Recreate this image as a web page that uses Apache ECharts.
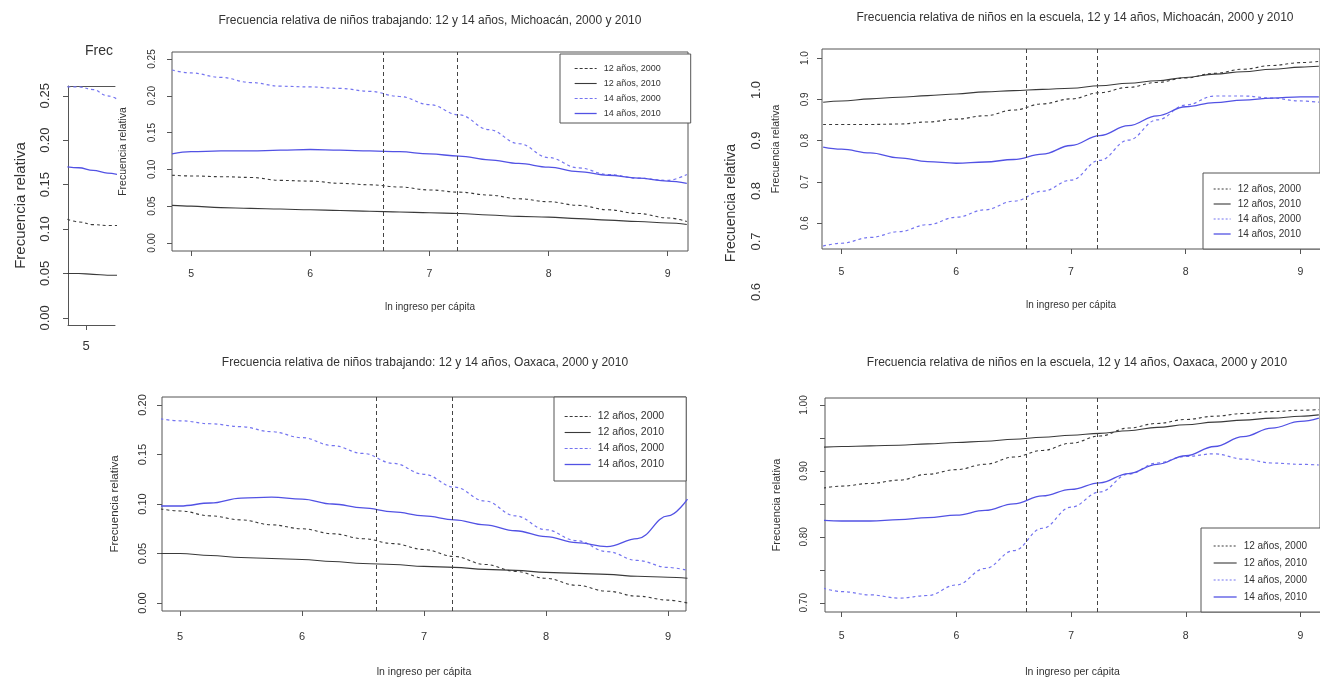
<!DOCTYPE html>
<html>
<head>
<meta charset="utf-8">
<script src="https://cdn.jsdelivr.net/npm/echarts@6/dist/echarts.min.js"></script>
<style>
html,body{margin:0;padding:0;background:#fff;}
#chart{width:1320px;height:681px;}
</style>
</head>
<body>
<div id="chart"></div>
<script>
// ---------- data ----------
const seriesNames = ['12 años, 2000', '12 años, 2010', '14 años, 2000', '14 años, 2010'];
const xs = [4.84, 5.0, 5.25, 5.5, 5.75, 6.0, 6.25, 6.5, 6.75, 7.0, 7.25, 7.5, 7.75, 8.0, 8.25, 8.5, 8.75, 9.0, 9.16];
const xTicks = [5, 6, 7, 8, 9];
const cutoffs = [6.61, 7.23];

// Fragment of a panel partly hidden at the far left
const xsFrag = [4.87, 4.95, 5.05, 5.15, 5.25];
const frag_12_2000 = [0.111, 0.108, 0.105, 0.104, 0.104];
const frag_12_2010 = [0.050, 0.050, 0.049, 0.048, 0.048];
const frag_14_2000 = [0.260, 0.260, 0.257, 0.250, 0.243];
const frag_14_2010 = [0.170, 0.169, 0.166, 0.163, 0.160];
const fragYTicks = [0, 0.05, 0.10, 0.15, 0.20, 0.25];

// Niños trabajando, Michoacán
const trabMich_12_2000 = [0.092, 0.091, 0.090, 0.089, 0.085, 0.084, 0.081, 0.079, 0.076, 0.072, 0.069, 0.065, 0.060, 0.056, 0.051, 0.045, 0.040, 0.034, 0.029];
const trabMich_12_2010 = [0.051, 0.050, 0.048, 0.047, 0.046, 0.045, 0.044, 0.043, 0.042, 0.041, 0.040, 0.038, 0.036, 0.035, 0.033, 0.031, 0.029, 0.027, 0.025];
const trabMich_14_2000 = [0.235, 0.231, 0.225, 0.218, 0.213, 0.212, 0.210, 0.206, 0.199, 0.188, 0.174, 0.154, 0.135, 0.116, 0.102, 0.093, 0.088, 0.085, 0.093];
const trabMich_14_2010 = [0.121, 0.124, 0.125, 0.125, 0.126, 0.127, 0.126, 0.125, 0.124, 0.121, 0.118, 0.113, 0.108, 0.103, 0.097, 0.092, 0.088, 0.084, 0.081];
const trabMichYTicks = [0, 0.05, 0.10, 0.15, 0.20, 0.25];

// Niños en la escuela, Michoacán
const escMich_12_2000 = [0.839, 0.839, 0.839, 0.840, 0.845, 0.852, 0.860, 0.874, 0.889, 0.901, 0.916, 0.929, 0.941, 0.952, 0.963, 0.973, 0.982, 0.989, 0.992];
const escMich_12_2010 = [0.893, 0.896, 0.901, 0.905, 0.909, 0.913, 0.918, 0.921, 0.924, 0.927, 0.933, 0.939, 0.945, 0.953, 0.961, 0.967, 0.973, 0.978, 0.980];
const escMich_14_2000 = [0.544, 0.551, 0.565, 0.579, 0.596, 0.614, 0.632, 0.653, 0.677, 0.704, 0.752, 0.801, 0.850, 0.886, 0.908, 0.908, 0.903, 0.896, 0.893];
const escMich_14_2010 = [0.784, 0.779, 0.770, 0.758, 0.749, 0.745, 0.748, 0.754, 0.767, 0.788, 0.812, 0.836, 0.860, 0.882, 0.892, 0.898, 0.903, 0.906, 0.906];
const escMichYTicks = [0.6, 0.7, 0.8, 0.9, 1.0];
const ghostYTicks = [0.6, 0.7, 0.8, 0.9, 1.0];

// Niños trabajando, Oaxaca
const trabOax_12_2000 = [0.095, 0.093, 0.088, 0.084, 0.079, 0.075, 0.070, 0.065, 0.060, 0.054, 0.047, 0.039, 0.032, 0.025, 0.018, 0.012, 0.007, 0.003, 0.000];
const trabOax_12_2010 = [0.050, 0.050, 0.048, 0.046, 0.045, 0.044, 0.042, 0.040, 0.039, 0.037, 0.036, 0.034, 0.033, 0.031, 0.030, 0.029, 0.027, 0.026, 0.025];
const trabOax_14_2000 = [0.186, 0.184, 0.181, 0.178, 0.173, 0.167, 0.159, 0.151, 0.141, 0.130, 0.117, 0.103, 0.088, 0.074, 0.063, 0.052, 0.043, 0.036, 0.033];
const trabOax_14_2010 = [0.098, 0.098, 0.101, 0.106, 0.107, 0.105, 0.100, 0.096, 0.092, 0.088, 0.084, 0.079, 0.073, 0.067, 0.061, 0.057, 0.065, 0.088, 0.105];
const trabOaxYTicks = [0, 0.05, 0.10, 0.15, 0.20];

// Niños en la escuela, Oaxaca
const escOax_12_2000 = [0.874, 0.877, 0.881, 0.886, 0.895, 0.902, 0.910, 0.921, 0.931, 0.942, 0.953, 0.965, 0.972, 0.978, 0.983, 0.987, 0.990, 0.992, 0.993];
const escOax_12_2010 = [0.936, 0.937, 0.938, 0.939, 0.941, 0.943, 0.945, 0.948, 0.951, 0.954, 0.957, 0.961, 0.966, 0.970, 0.974, 0.977, 0.980, 0.983, 0.985];
const escOax_14_2000 = [0.722, 0.717, 0.712, 0.707, 0.711, 0.727, 0.752, 0.779, 0.813, 0.845, 0.868, 0.895, 0.912, 0.922, 0.926, 0.918, 0.912, 0.910, 0.909];
const escOax_14_2010 = [0.825, 0.824, 0.824, 0.826, 0.829, 0.833, 0.840, 0.850, 0.862, 0.872, 0.882, 0.896, 0.910, 0.923, 0.937, 0.952, 0.965, 0.975, 0.980];
const escOaxYTicks = [0.70, 0.75, 0.80, 0.85, 0.90, 0.95, 1.00];
const escOaxYLabels = [0.70, 0.80, 0.90, 1.00];

const titles = {
  frag: 'Frecuencia relativa de niños trabajando: 12 y 14 años, Michoacán, 2000 y 2010',
  trabMich: 'Frecuencia relativa de niños trabajando: 12 y 14 años, Michoacán, 2000 y 2010',
  escMich: 'Frecuencia relativa de niños en la escuela, 12 y 14 años, Michoacán, 2000 y 2010',
  trabOax: 'Frecuencia relativa de niños trabajando: 12 y 14 años, Oaxaca, 2000 y 2010',
  escOax: 'Frecuencia relativa de niños en la escuela, 12 y 14 años, Oaxaca, 2000 y 2010'
};
const yName = 'Frecuencia relativa';
const xName = 'ln ingreso per cápita';

// ---------- styles ----------
const FONT = "'Liberation Sans', Arial, sans-serif";
const TXT = '#333';
const FRAME = '#555';
const BLACK = '#3a3a3a';
const BLUE = '#5252e4';
const BLUE_D = '#7474f0';
const NONE = 'rgba(0,0,0,0)';
const lineStyles = [
  {color: BLACK, width: 1.1, type: [3, 3]},
  {color: BLACK, width: 1.1, type: 'solid'},
  {color: BLUE_D, width: 1.2, type: [3, 3]},
  {color: BLUE, width: 1.3, type: 'solid'}
];

function pairs(xArr, yArr) { return xArr.map((x, i) => [x, yArr[i]]); }

function panelSeries(xi, yi, xArr, arrs, withCut) {
  return arrs.map((arr, k) => {
    const s = {
      name: seriesNames[k], type: 'line', xAxisIndex: xi, yAxisIndex: yi,
      data: pairs(xArr, arr), showSymbol: false, symbol: 'none',
      smooth: 0.4, smoothMonotone: 'x', lineStyle: lineStyles[k],
      itemStyle: {color: lineStyles[k].color}, silent: true, z: 3
    };
    if (withCut && k === 1) {
      s.markLine = {
        symbol: 'none', silent: true, label: {show: false},
        lineStyle: {color: '#444', width: 1, type: [4, 3]},
        data: cutoffs.map(v => ({xAxis: v}))
      };
    }
    return s;
  });
}

function xAxisCfg(gi, min, max, font, margin, nameGap, nameFont, showName) {
  return {
    type: 'value', gridIndex: gi, min, max,
    axisLine: {show: false, onZero: false},
    axisTick: {show: true, length: 5, lineStyle: {color: FRAME}, customValues: xTicks},
    axisLabel: {show: true, margin, fontSize: font, color: TXT, fontFamily: FONT, customValues: xTicks},
    splitLine: {show: false},
    name: showName ? xName : '', nameLocation: 'middle', nameGap,
    nameTextStyle: {fontSize: nameFont, color: TXT, fontFamily: FONT}
  };
}

function yAxisCfg(gi, min, max, ticks, labels, dec, font, margin, nameGap, nameFont) {
  return {
    type: 'value', gridIndex: gi, min, max,
    axisLine: {show: false, onZero: false},
    axisTick: {show: true, length: 5, lineStyle: {color: FRAME}, customValues: ticks},
    axisLabel: {show: true, rotate: 90, margin, fontSize: font, color: TXT, fontFamily: FONT,
      customValues: labels, formatter: v => Number(v).toFixed(dec)},
    splitLine: {show: false},
    name: yName, nameLocation: 'middle', nameRotate: 90, nameGap,
    nameTextStyle: {fontSize: nameFont, color: TXT, fontFamily: FONT}
  };
}

function legendCfg(left, top, padding, itemW, itemH, gap, font, dash) {
  return {
    left, top, orient: 'vertical', padding, itemWidth: itemW, itemHeight: itemH, itemGap: gap,
    borderColor: FRAME, borderWidth: 1, borderRadius: 0, backgroundColor: '#fff',
    selectedMode: false, align: 'left',
    textStyle: {fontSize: font, color: TXT, fontFamily: FONT, padding: [0, 0, 0, 2]},
    data: seriesNames.map((n, k) => ({
      name: n,
      itemStyle: {color: NONE, borderColor: NONE, borderWidth: 0, opacity: 0},
      lineStyle: Object.assign({}, lineStyles[k], k % 2 === 0 ? {type: dash} : {})
    }))
  };
}

function titleCfg(text, cx, top, font, extra) {
  return {
    text, left: cx, top, textAlign: 'center', padding: 0,
    textStyle: Object.assign({fontSize: font, fontWeight: 'normal', color: TXT, fontFamily: FONT}, extra || {})
  };
}

const option = {
  backgroundColor: '#fff',
  animation: false,
  title: [
    {text: titles.frag, left: 85, top: 44, padding: 0,
     textStyle: {fontSize: 14, fontWeight: 'normal', color: TXT, fontFamily: FONT,
                 width: 36, overflow: 'truncate', ellipsis: ''}},
    titleCfg(titles.trabMich, 430, 15, 12),
    titleCfg(titles.escMich, 1075, 12, 12),
    titleCfg(titles.trabOax, 425, 357, 12),
    titleCfg(titles.escOax, 1077, 357, 12)
  ],
  grid: [
    {left: 68, top: 86, width: 47, height: 239, show: false},           // 0 fragment
    {left: 172, top: 52, width: 516, height: 199, show: true, borderColor: FRAME, borderWidth: 1, backgroundColor: 'transparent'}, // 1
    {left: 772, top: 75, width: 10, height: 256, show: false},          // 2 ghost axis
    {left: 822, top: 49, width: 509, height: 200, show: true, borderColor: FRAME, borderWidth: 1, backgroundColor: 'transparent'}, // 3
    {left: 162, top: 397, width: 524, height: 214, show: true, borderColor: FRAME, borderWidth: 1, backgroundColor: 'transparent'}, // 4
    {left: 825, top: 398, width: 506, height: 214, show: true, borderColor: FRAME, borderWidth: 1, backgroundColor: 'transparent'}  // 5
  ],
  xAxis: [
    Object.assign(xAxisCfg(0, 4.874, 5.203, 13, 15, 40, 13, false), {axisLine: {show: true, onZero: false, lineStyle: {color: FRAME}}}),
    {type: 'value', gridIndex: 0, position: 'top', min: 4.874, max: 5.203,
     axisLine: {show: true, onZero: false, lineStyle: {color: FRAME}}, axisTick: {show: false},
     axisLabel: {show: false}, splitLine: {show: false}},
    xAxisCfg(1, 4.84, 9.17, 10.5, 18, 51, 10, true),
    {type: 'value', gridIndex: 2, min: 0, max: 1, show: false},
    xAxisCfg(3, 4.83, 9.17, 10.5, 18, 51, 10, true),
    xAxisCfg(4, 4.852, 9.148, 11, 20, 56, 10.5, true),
    xAxisCfg(5, 4.855, 9.17, 10.5, 19, 55, 10.5, true)
  ],
  yAxis: [
    Object.assign(yAxisCfg(0, -0.008, 0.261, fragYTicks, fragYTicks, 2, 13, 16, 40, 15), {axisLine: {show: true, onZero: false, lineStyle: {color: FRAME}}}),
    yAxisCfg(1, -0.011, 0.2595, trabMichYTicks, trabMichYTicks, 2, 10, 15, 43, 10.5),
    Object.assign(yAxisCfg(2, 0.5228, 1.0297, ghostYTicks, ghostYTicks, 1, 13, 9, 34, 14), {axisTick: {show: false}}),
    yAxisCfg(3, 0.537, 1.022, escMichYTicks, escMichYTicks, 1, 10, 12, 40, 10.5),
    yAxisCfg(4, -0.008, 0.208, trabOaxYTicks, trabOaxYTicks, 2, 11, 14, 41, 11.5),
    yAxisCfg(5, 0.686, 1.0106, escOaxYTicks, escOaxYLabels, 2, 10, 16, 43, 11)
  ],
  legend: [
    legendCfg(560, 54, [10, 30, 5, 14], 22, 10, 6, 9, [3, 2]),
    legendCfg(1203, 173, [11, 20, 10, 10], 17, 10, 5, 10, [2, 2]),
    legendCfg(554, 397, [14, 22, 11, 10], 26, 11, 5, 10.5, [3, 2]),
    legendCfg(1201, 528, [13, 20, 10, 12], 23, 10, 7, 10, [2, 2])
  ],
  series: [].concat(
    panelSeries(0, 0, xsFrag, [frag_12_2000, frag_12_2010, frag_14_2000, frag_14_2010], false),
    panelSeries(2, 1, xs, [trabMich_12_2000, trabMich_12_2010, trabMich_14_2000, trabMich_14_2010], true),
    panelSeries(4, 3, xs, [escMich_12_2000, escMich_12_2010, escMich_14_2000, escMich_14_2010], true),
    panelSeries(5, 4, xs, [trabOax_12_2000, trabOax_12_2010, trabOax_14_2000, trabOax_14_2010], true),
    panelSeries(6, 5, xs, [escOax_12_2000, escOax_12_2010, escOax_14_2000, escOax_14_2010], true)
  )
};

const chart = echarts.init(document.getElementById('chart'), null, {renderer: 'canvas'});
chart.setOption(option);
</script>
</body>
</html>
